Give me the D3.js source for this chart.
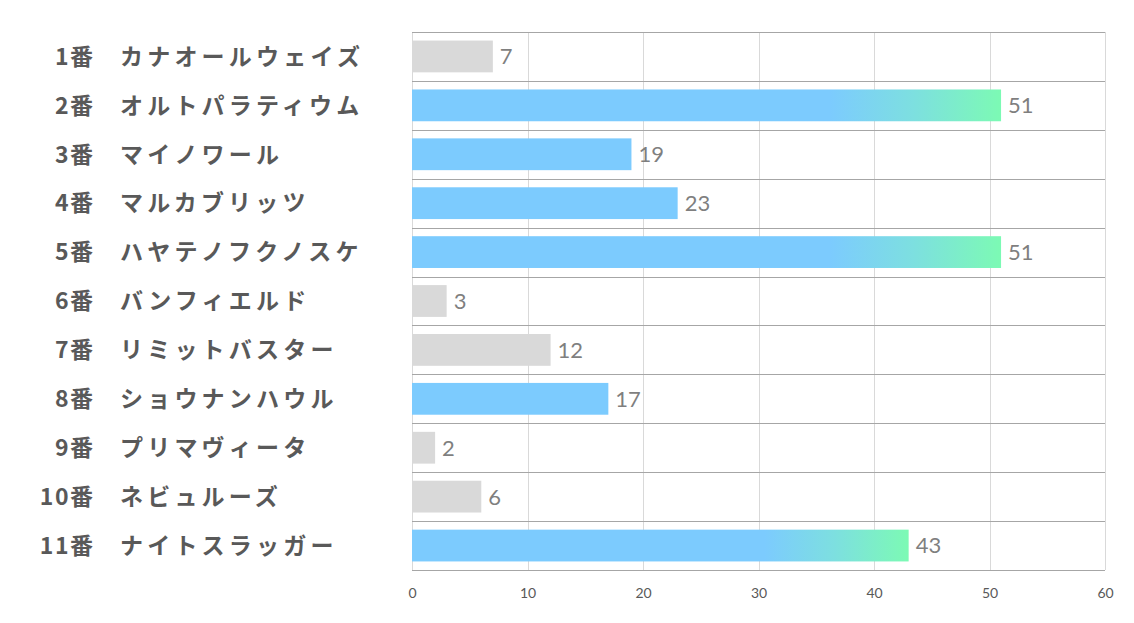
<!DOCTYPE html>
<html><head><meta charset="utf-8">
<script src="https://cdn.jsdelivr.net/npm/d3@7"></script>
<style>body{margin:0;background:#fff;}svg{display:block;}</style>
</head><body>
<svg id="chart" width="1134" height="623"></svg>
<script>
const numbers = ["1番","2番","3番","4番","5番","6番","7番","8番","9番","10番","11番"];
const names = ["カナオールウェイズ","オルトパラティウム","マイノワール","マルカブリッツ","ハヤテノフクノスケ","バンフィエルド","リミットバスター","ショウナンハウル","プリマヴィータ","ネビュルーズ","ナイトスラッガー"];
const values = [7,51,19,23,51,3,12,17,2,6,43];
const ticks = [0,10,20,30,40,50,60];

(function(){
const svg = d3.select("#chart");
const pL = 412, pR = 1105, pT = 32, pB = 570;
const x = d3.scaleLinear().domain([0,60]).range([pL,pR]);
const y = d3.scaleBand().domain(d3.range(values.length)).range([pT,pB]).paddingInner(0.35).paddingOuter(0.175);

// rank-based color tier
const sorted = values.map((v,i)=>({v,i})).sort((a,b)=>b.v-a.v);
const rank = new Array(values.length);
sorted.forEach((d,r)=>rank[d.i]=r);

const defs = svg.append("defs");
const grad = defs.append("linearGradient").attr("id","g1").attr("x1","0").attr("x2","1").attr("y1","0").attr("y2","0");
grad.append("stop").attr("offset","0").attr("stop-color","#7ccbfe");
grad.append("stop").attr("offset","0.71").attr("stop-color","#7ccbfe");
grad.append("stop").attr("offset","0.85").attr("stop-color","#7ddfe0");
grad.append("stop").attr("offset","1").attr("stop-color","#7cfab4");

// vertical gridlines
svg.append("g").selectAll("line").data(ticks).join("line")
  .attr("x1",d=>Math.round(x(d))+0.5).attr("x2",d=>Math.round(x(d))+0.5).attr("y1",pT).attr("y2",pB)
  .attr("stroke","#d9d9d9").attr("stroke-width",1);

// horizontal category lines
const step = (pB-pT)/values.length;
svg.append("g").selectAll("line").data(d3.range(values.length+1)).join("line")
  .attr("x1",pL).attr("x2",pR).attr("y1",d=>Math.round(pT+d*step)+0.5).attr("y2",d=>Math.round(pT+d*step)+0.5)
  .attr("stroke","#a6a6a6").attr("stroke-width",1);

// bars
svg.append("g").selectAll("rect").data(values).join("rect")
  .attr("x",x(0)).attr("y",(d,i)=>y(i)).attr("height",y.bandwidth())
  .attr("width",d=>x(d)-x(0))
  .attr("fill",(d,i)=>rank[i]<3?"url(#g1)":(rank[i]<6?"#7ccbfe":"#d9d9d9"));

// value labels
svg.append("g").selectAll("text").data(values).join("text")
  .attr("x",d=>x(d)+7).attr("y",(d,i)=>y(i)+y.bandwidth()/2)
  .attr("dy","0.36em").attr("font-family","Lato, 'Open Sans', sans-serif")
  .attr("font-size",22).attr("fill","#7f7f7f").text(d=>d);

// axis tick labels
const axis = d3.axisBottom(x).tickValues(ticks).tickSize(0).tickPadding(0);
const ag = svg.append("g").attr("transform",`translate(0,${pB})`).call(axis);
ag.select(".domain").remove();
ag.selectAll("text").attr("y",28).attr("dy","0").attr("font-family","Lato, 'Open Sans', sans-serif")
  .attr("font-size",14).attr("fill","#595959");

// category labels
const lg = svg.append("g").attr("font-family","'Noto Sans CJK JP', sans-serif").attr("font-weight","bold").attr("fill","#595959");
lg.selectAll("text.num").data(numbers).join("text").attr("class","num")
  .attr("x",94.5).attr("y",(d,i)=>y(i)+y.bandwidth()/2).attr("dy","0.36em")
  .attr("text-anchor","end").attr("font-size",23).attr("letter-spacing","1.5px").text(d=>d);
lg.selectAll("text.nm").data(names).join("text").attr("class","nm")
  .attr("x",120).attr("y",(d,i)=>y(i)+y.bandwidth()/2).attr("dy","0.36em")
  .attr("font-size",23).attr("letter-spacing","4.2px").text(d=>d);
})();
</script>
</body></html>
